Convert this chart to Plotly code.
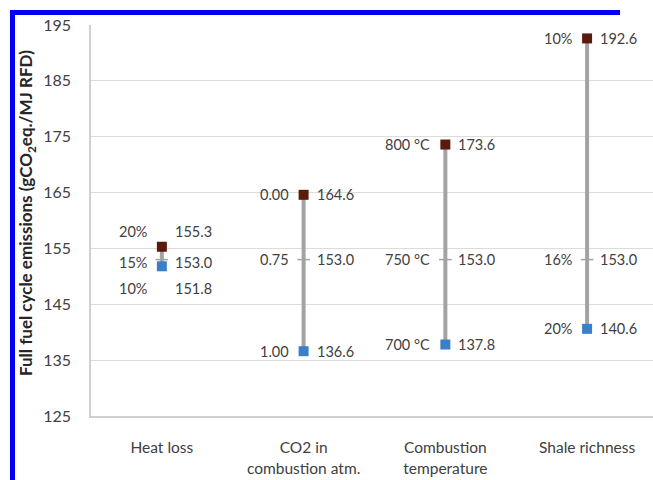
import plotly.graph_objects as go

categories = ["Heat loss", "CO2 in<br>combustion atm.", "Combustion<br>temperature", "Shale richness"]
high_vals = [155.3, 164.6, 173.6, 192.6]
base_vals = [153.0, 153.0, 153.0, 153.0]
low_vals = [151.8, 136.6, 137.8, 140.6]
high_labels = ["20%", "0.00", "800 °C", "10%"]
base_labels = ["15%", "0.75", "750 °C", "16%"]
low_labels = ["10%", "1.00", "700 °C", "20%"]
y_ticks = [125, 135, 145, 155, 165, 175, 185, 195]

FONT = "Lato"
TXT = "#404040"
BROWN = "#5A1A0C"
BLUE = "#3A7FCB"
GRAY = "#A3A3A3"

fig = go.Figure()

lx, ly = [], []
for c, lo, hi in zip(categories, low_vals, high_vals):
    lx += [c, c, None]
    ly += [lo, hi, None]
fig.add_trace(go.Scatter(x=lx, y=ly, mode="lines", line=dict(color=GRAY, width=4),
                         hoverinfo="skip", showlegend=False))
fig.add_trace(go.Scatter(x=categories, y=base_vals, mode="markers",
                         marker=dict(symbol="line-ew", size=9, line=dict(color=GRAY, width=1.5)),
                         showlegend=False))
fig.add_trace(go.Scatter(x=categories, y=low_vals, mode="markers",
                         marker=dict(symbol="square", size=10, color=BLUE), showlegend=False))
fig.add_trace(go.Scatter(x=categories, y=high_vals, mode="markers",
                         marker=dict(symbol="square", size=10, color=BROWN), showlegend=False))

ann = []
for i, c in enumerate(categories):
    groups = [(high_vals[i], high_labels[i], 15 if i == 0 else 0),
              (base_vals[i], base_labels[i], -3 if i == 0 else 0),
              (low_vals[i], low_labels[i], -22 if i == 0 else 0)]
    for val, lab, ys in groups:
        ann.append(dict(x=c, y=val, text=lab, showarrow=False, xanchor="right", yanchor="middle",
                        xshift=-13, yshift=ys, font=dict(family=FONT, size=14.5, color=TXT)))
        ann.append(dict(x=c, y=val, text=f"{val:.1f}", showarrow=False, xanchor="left", yanchor="middle",
                        xshift=11, yshift=ys, font=dict(family=FONT, size=14.5, color=TXT)))

W, H = 653, 480
L, T, B = 91, 25, 64
pw = W - L
ph = H - T - B
def px(x):
    return (x - L) / pw
def py(y):
    return (H - B - y) / ph

ann.append(dict(xref="paper", yref="paper", x=px(27), y=py(213), textangle=-90,
                text="<b>Full fuel cycle emissions (gCO<sub>2</sub>eq./MJ RFD)</b>",
                showarrow=False, xanchor="center", yanchor="middle",
                font=dict(family=FONT, size=17, color="#262626")))

# blue frame on left and top edges
shapes = [
    dict(type="rect", xref="paper", yref="paper", x0=px(10), x1=px(15), y0=py(480), y1=py(10),
         fillcolor="#0000F5", line=dict(width=0), layer="above"),
    dict(type="rect", xref="paper", yref="paper", x0=px(15), x1=px(620), y0=py(15), y1=py(10),
         fillcolor="#0000F5", line=dict(width=0), layer="above"),
]

fig.update_layout(
    width=W, height=H,
    margin=dict(l=L, r=0, t=T, b=B),
    paper_bgcolor="white", plot_bgcolor="white",
    font=dict(family=FONT, color=TXT),
    annotations=ann, shapes=shapes,
    xaxis=dict(type="category", categoryorder="array", categoryarray=categories,
               range=[-0.5, 3.465], showgrid=False, showline=True, linecolor="#D0D0D0", linewidth=1.5,
               ticks="", ticklabelstandoff=17, tickfont=dict(family=FONT, size=15.5, color=TXT),
               zeroline=False, fixedrange=True),
    yaxis=dict(range=[125, 195], tickvals=y_ticks, showgrid=True, gridcolor="#DCDCDC", gridwidth=1,
               showline=True, linecolor="#D0D0D0", linewidth=1.5, ticks="", ticklabelstandoff=15,
               tickfont=dict(family=FONT, size=16, color=TXT), zeroline=False),
    showlegend=False,
)

fig.write_html("out.html", config={"displayModeBar": False},
               post_script="document.body.style.margin='0';document.body.style.overflow='hidden';")
